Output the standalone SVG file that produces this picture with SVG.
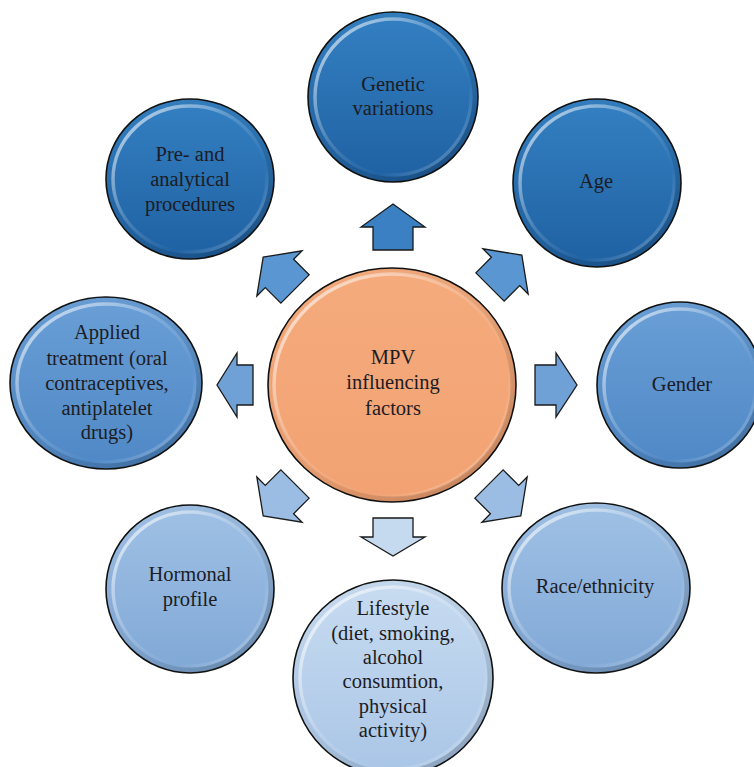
<svg xmlns="http://www.w3.org/2000/svg" width="754" height="767" viewBox="0 0 754 767">
  <style>
    .lbl { font-family: "Liberation Serif", "Times New Roman", serif; font-size: 20.5px; fill: #1c1c24; text-anchor: middle; }
    .rim { fill: none; stroke: #111; stroke-width: 1.6; }
    .hi { fill: none; stroke: url(#gHi); stroke-width: 3.5; }
    .sh { fill: none; stroke: url(#gSh); stroke-width: 5; }
    .arr { stroke: #1a1a1a; stroke-width: 1.3; stroke-linejoin: miter; }
  </style>
  <defs>
    <linearGradient id="gDark" x1="0" y1="0" x2="0" y2="1">
      <stop offset="0" stop-color="#3480c2"/>
      <stop offset="1" stop-color="#1f61a2"/>
    </linearGradient>
    <linearGradient id="gMid" x1="0" y1="0" x2="0" y2="1">
      <stop offset="0" stop-color="#6a9fd6"/>
      <stop offset="1" stop-color="#4f88c6"/>
    </linearGradient>
    <linearGradient id="gLight" x1="0" y1="0" x2="0" y2="1">
      <stop offset="0" stop-color="#a0c1e5"/>
      <stop offset="1" stop-color="#80a8d6"/>
    </linearGradient>
    <linearGradient id="gPale" x1="0" y1="0" x2="0" y2="1">
      <stop offset="0" stop-color="#c8dcf1"/>
      <stop offset="1" stop-color="#a9c5e6"/>
    </linearGradient>
    <linearGradient id="gOrange" x1="0" y1="0" x2="0" y2="1">
      <stop offset="0" stop-color="#f5ab7d"/>
      <stop offset="1" stop-color="#f2a272"/>
    </linearGradient>
    <linearGradient id="gHi" x1="0" y1="0" x2="1" y2="1">
      <stop offset="0" stop-color="#ffffff" stop-opacity="0.75"/>
      <stop offset="0.45" stop-color="#ffffff" stop-opacity="0.15"/>
      <stop offset="0.7" stop-color="#ffffff" stop-opacity="0"/>
      <stop offset="1" stop-color="#ffffff" stop-opacity="0.35"/>
    </linearGradient>
    <linearGradient id="gSh" x1="0" y1="0" x2="1" y2="1">
      <stop offset="0" stop-color="#000000" stop-opacity="0"/>
      <stop offset="0.5" stop-color="#000000" stop-opacity="0.05"/>
      <stop offset="1" stop-color="#000000" stop-opacity="0.22"/>
    </linearGradient>
  </defs>

  <g id="connectors">
    <polygon class="arr" fill="#3a80c3" transform="translate(393,250) rotate(-90)" points="0,-20 23,-20 23,-32 46,0 23,32 23,20 0,20"/>
    <polygon class="arr" fill="#5a97d2" transform="translate(490,287) rotate(-45)" points="0,-20 22,-20 22,-32 45,0 22,32 22,20 0,20"/>
    <polygon class="arr" fill="#6fa1d6" transform="translate(535,385)" points="0,-20 21,-20 21,-32 42,0 21,32 21,20 0,20"/>
    <polygon class="arr" fill="#9bbde3" transform="translate(489,484) rotate(45)" points="0,-20 22,-20 22,-32 45,0 22,32 22,20 0,20"/>
    <polygon class="arr" fill="#c6daef" transform="translate(393,518) rotate(90)" points="0,-20 19,-20 19,-32 38,0 19,32 19,20 0,20"/>
    <polygon class="arr" fill="#9bbde3" transform="translate(295,484) rotate(135)" points="0,-20 22,-20 22,-32 45,0 22,32 22,20 0,20"/>
    <polygon class="arr" fill="#6fa1d6" transform="translate(253,385) rotate(180)" points="0,-20 16,-20 16,-32 36,0 16,32 16,20 0,20"/>
    <polygon class="arr" fill="#5a97d2" transform="translate(295,289) rotate(-135)" points="0,-20 22,-20 22,-32 45,0 22,32 22,20 0,20"/>
  </g>

  <g id="center">
    <ellipse cx="392" cy="385" rx="124" ry="117" fill="url(#gOrange)"/>
    <ellipse cx="392" cy="385" rx="118" ry="111" class="hi"/>
    <ellipse cx="392" cy="385" rx="121" ry="114" class="sh"/>
    <ellipse cx="392" cy="385" rx="124" ry="117" class="rim"/>
    <text class="lbl" x="393" y="364">MPV</text>
    <text class="lbl" x="393" y="389">influencing</text>
    <text class="lbl" x="393" y="415">factors</text>
  </g>

  <g id="genetic">
    <ellipse cx="393" cy="97" rx="85" ry="85" fill="url(#gDark)"/>
    <ellipse cx="393" cy="97" rx="78" ry="78" class="hi"/>
    <ellipse cx="393" cy="97" rx="82" ry="82" class="sh"/>
    <ellipse cx="393" cy="97" rx="85" ry="85" class="rim"/>
    <text class="lbl" x="393" y="91">Genetic</text>
    <text class="lbl" x="393" y="115">variations</text>
  </g>

  <g id="age">
    <ellipse cx="597" cy="183" rx="84" ry="84" fill="url(#gDark)"/>
    <ellipse cx="597" cy="183" rx="77" ry="77" class="hi"/>
    <ellipse cx="597" cy="183" rx="81" ry="81" class="sh"/>
    <ellipse cx="597" cy="183" rx="84" ry="84" class="rim"/>
    <text class="lbl" x="596" y="188">Age</text>
  </g>

  <g id="gender">
    <ellipse cx="680" cy="385" rx="83" ry="83" fill="url(#gMid)"/>
    <ellipse cx="680" cy="385" rx="76" ry="76" class="hi"/>
    <ellipse cx="680" cy="385" rx="80" ry="80" class="sh"/>
    <ellipse cx="680" cy="385" rx="83" ry="83" class="rim"/>
    <text class="lbl" x="682" y="391">Gender</text>
  </g>

  <g id="race">
    <ellipse cx="596" cy="588" rx="94" ry="85" fill="url(#gLight)"/>
    <ellipse cx="596" cy="588" rx="87" ry="78" class="hi"/>
    <ellipse cx="596" cy="588" rx="91" ry="82" class="sh"/>
    <ellipse cx="596" cy="588" rx="94" ry="85" class="rim"/>
    <text class="lbl" x="595" y="593">Race/ethnicity</text>
  </g>

  <g id="lifestyle">
    <ellipse cx="393" cy="678" rx="100" ry="98" fill="url(#gPale)"/>
    <ellipse cx="393" cy="678" rx="93" ry="91" class="hi"/>
    <ellipse cx="393" cy="678" rx="97" ry="95" class="sh"/>
    <ellipse cx="393" cy="678" rx="100" ry="98" class="rim"/>
    <text class="lbl" x="393" y="615">Lifestyle</text>
    <text class="lbl" x="393" y="640">(diet, smoking,</text>
    <text class="lbl" x="393" y="664">alcohol</text>
    <text class="lbl" x="393" y="688">consumtion,</text>
    <text class="lbl" x="393" y="713">physical</text>
    <text class="lbl" x="393" y="737">activity)</text>
  </g>

  <g id="hormonal">
    <ellipse cx="190" cy="589" rx="84" ry="84" fill="url(#gLight)"/>
    <ellipse cx="190" cy="589" rx="77" ry="77" class="hi"/>
    <ellipse cx="190" cy="589" rx="81" ry="81" class="sh"/>
    <ellipse cx="190" cy="589" rx="84" ry="84" class="rim"/>
    <text class="lbl" x="190" y="581">Hormonal</text>
    <text class="lbl" x="190" y="606">profile</text>
  </g>

  <g id="applied">
    <ellipse cx="106" cy="383" rx="96" ry="86" fill="url(#gMid)"/>
    <ellipse cx="106" cy="383" rx="89" ry="79" class="hi"/>
    <ellipse cx="106" cy="383" rx="93" ry="83" class="sh"/>
    <ellipse cx="106" cy="383" rx="96" ry="86" class="rim"/>
    <text class="lbl" x="107" y="339">Applied</text>
    <text class="lbl" x="107" y="365">treatment (oral</text>
    <text class="lbl" x="107" y="390">contraceptives,</text>
    <text class="lbl" x="107" y="415">antiplatelet</text>
    <text class="lbl" x="107" y="439">drugs)</text>
  </g>

  <g id="preanalytical">
    <ellipse cx="190" cy="179" rx="84" ry="80" fill="url(#gDark)"/>
    <ellipse cx="190" cy="179" rx="77" ry="73" class="hi"/>
    <ellipse cx="190" cy="179" rx="81" ry="77" class="sh"/>
    <ellipse cx="190" cy="179" rx="84" ry="80" class="rim"/>
    <text class="lbl" x="190" y="161">Pre- and</text>
    <text class="lbl" x="190" y="186">analytical</text>
    <text class="lbl" x="190" y="211">procedures</text>
  </g>
</svg>
